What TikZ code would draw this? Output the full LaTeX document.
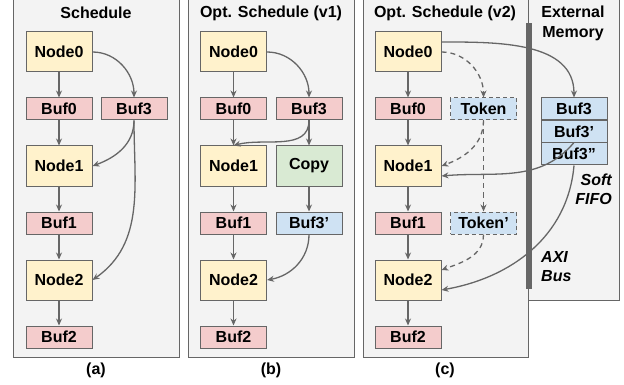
\documentclass[tikz,border=0pt]{standalone}
\usepackage{fontspec}
\setmainfont{Liberation Sans}
\usetikzlibrary{arrows.meta, positioning}
\definecolor{pgray} {RGB}{243,243,243}
\definecolor{dgray} {RGB}{102,102,102}
\definecolor{nylw}  {RGB}{255,242,204}
\definecolor{bred}  {RGB}{244,204,204}
\definecolor{bblu}  {RGB}{207,226,243}
\definecolor{cgrn}  {RGB}{217,234,211}
\tikzset{
  % Yellow compute node
  NB/.style={rectangle,draw=dgray,fill=nylw,minimum width=#1,
             minimum height=40pt,align=center,
             font=\fontsize{16}{19}\selectfont\bfseries,inner sep=2pt,line width=1pt},
  NB/.default=66pt,
  % Red buffer node
  RB/.style={rectangle,draw=dgray,fill=bred,minimum width=#1,
             minimum height=22pt,align=center,
             font=\fontsize{16}{19}\selectfont\bfseries,inner sep=1pt,line width=1pt},
  RB/.default=66pt,
  % Blue buffer node
  BB/.style={rectangle,draw=dgray,fill=bblu,minimum width=#1,
             minimum height=22pt,align=center,
             font=\fontsize{16}{19}\selectfont\bfseries,inner sep=1pt,line width=1pt},
  BB/.default=66pt,
  % Dashed token node
  KB/.style={BB=#1,dashed,dash pattern=on 4pt off 3pt},
  KB/.default=66pt,
  % Green copy node
  CB/.style={rectangle,draw=dgray,fill=cgrn,minimum width=#1,
             minimum height=40pt,align=center,
             font=\fontsize{16}{19}\selectfont\bfseries,inner sep=2pt,line width=1pt},
  CB/.default=66pt,
  % Panel background
  PN/.style={draw=dgray,fill=pgray,line width=1pt},
  % Titles and captions
  TT/.style={font=\fontsize{16}{20}\selectfont\bfseries,align=center,inner sep=0pt},
  IT/.style={font=\fontsize{16}{19}\selectfont\bfseries\itshape,inner sep=0pt},
  % Arrows
  Arr/.style ={-{Stealth[length=7pt,width=6pt]},line width=1.3pt,color=dgray},
  DArr/.style={-{Stealth[length=7pt,width=6pt]},line width=1.3pt,color=dgray,
               dashed,dash pattern=on 5pt off 4pt},
}
\begin{document}
\begin{tikzpicture}[x=1pt,y=1pt]
  \clip (0,0) rectangle (624,-385);
  % panels
  \draw[PN] (13,5) rectangle (179,-357);
  \draw[PN] (188,5) rectangle (354,-357);
  \draw[PN] (528,5) rectangle (619,-300);
  \draw[PN] (363,5) rectangle (528,-357);

  \node[TT] at (96,-13) (ta) {Schedule};
  \node[TT] at (271,-13) (tb) {Opt. Schedule (v1)};
  \node[TT] at (445,-13) (tc) {Opt. Schedule (v2)};
  \node[TT] at (573,-23) (te) {External\\Memory};
  \node[TT] at (96,-370) (la) {(a)};
  \node[TT] at (271,-370) (lb) {(b)};
  \node[TT] at (445,-370) (lc) {(c)};

  % (a) schedule
  \node[NB] at (59,-52)  (a0) {Node0};
  \node[RB] at (59,-109) (ab0) {Buf0};
  \node[RB] at (134,-109) (ab3) {Buf3};
  \node[NB] at (59,-166) (a1) {Node1};
  \node[RB] at (59,-223) (ab1) {Buf1};
  \node[NB] at (59,-280) (a2) {Node2};
  \node[RB] at (59,-337) (ab2) {Buf2};
  \draw[Arr] (a0)--(ab0);
  \draw[Arr] (ab0)--(a1);
  \draw[Arr] (a1)--(ab1);
  \draw[Arr] (ab1)--(a2);
  \draw[Arr] (a2)--(ab2);
  \draw[Arr] (a0.east) to[out=0,in=90] (ab3.north);
  \draw[Arr] (ab3.south) to[out=-90,in=20] (a1.east);
  \draw[Arr] (ab3.south) to[out=-90,in=35] (a2.east);

  % (b) optimized schedule v1
  \node[NB] at (233.5,-52)  (b0) {Node0};
  \node[RB] at (233.5,-109) (bb0) {Buf0};
  \node[RB] at (309,-109)   (bb3) {Buf3};
  \node[NB] at (233.5,-166) (b1) {Node1};
  \node[CB] at (309,-166)   (bc) {Copy};
  \node[RB] at (233.5,-223) (bb1) {Buf1};
  \node[BB] at (309,-223)   (bb3p) {Buf3'};
  \node[NB] at (233.5,-280) (b2) {Node2};
  \node[RB] at (233.5,-337) (bb2) {Buf2};
  \draw[Arr] (b0)--(bb0);
  \draw[Arr] (bb0)--(b1);
  \draw[Arr] (b1)--(bb1);
  \draw[Arr] (bb1)--(b2);
  \draw[Arr] (b2)--(bb2);
  \draw[Arr] (bb3)--(bc);
  \draw[Arr] (bc)--(bb3p);
  \draw[Arr] (b0.east) to[out=0,in=90] (bb3.north);
  \draw[Arr] (bb3.south) to[out=-90,in=15] (b1.north);
  \draw[Arr] (bb3p.south) to[out=-90,in=10] (b2.east);

  % (c) optimized schedule v2
  \node[NB] at (408,-52)  (c0) {Node0};
  \node[RB] at (408,-109) (cb0) {Buf0};
  \node[KB] at (483.5,-109) (ck) {Token};
  \node[NB] at (408,-166) (c1) {Node1};
  \node[RB] at (408,-223) (cb1) {Buf1};
  \node[KB] at (483.5,-223) (ckp) {Token'};
  \node[NB] at (408,-280) (c2) {Node2};
  \node[RB] at (408,-337) (cb2) {Buf2};
  \node[BB] at (574,-109)   (m3) {Buf3};
  \node[BB] at (574,-131.5) (m3p) {Buf3'};
  \node[BB] at (574,-154)   (m3pp) {Buf3''};
  \node[IT,align=right,anchor=east] at (612,-189) (fifo) {Soft\\FIFO};
  \node[IT,align=left,anchor=west] at (541,-267) (axi) {AXI\\Bus};
  \draw[Arr] (c0)--(cb0);
  \draw[Arr] (cb0)--(c1);
  \draw[Arr] (c1)--(cb1);
  \draw[Arr] (cb1)--(c2);
  \draw[Arr] (c2)--(cb2);
  \draw[DArr] (c0.east) to[out=0,in=90] (ck.north);
  \draw[DArr] (ck.south) to[out=-90,in=20] (c1.east);
  \draw[DArr] (ck)--(ckp);
  \draw[DArr] (ckp.south) to[out=-90,in=20] ([yshift=10pt]c2.east);
  \draw[Arr] ([yshift=10pt]c0.east) to[out=0,in=90] (m3.north);
  \draw[Arr] (m3pp.north) to[out=-130,in=5] ([yshift=-10pt]c1.east);
  \draw[Arr] (m3pp.south) to[out=-95,in=10] ([yshift=-10pt]c2.east);
  % AXI bus bar
  \fill[dgray] (525.5,-23) rectangle (531.5,-289);
\end{tikzpicture}
\end{document}
